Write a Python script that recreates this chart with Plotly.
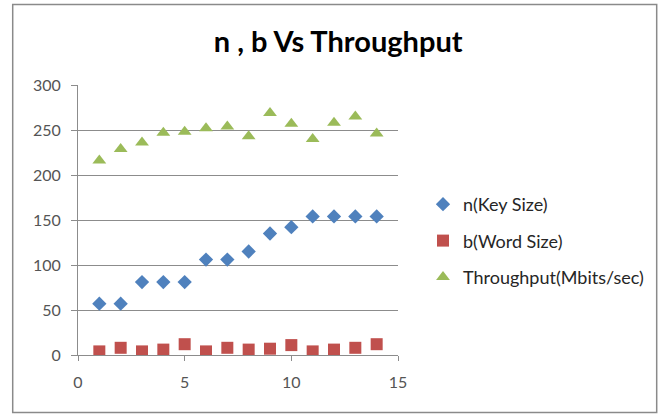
import plotly.graph_objects as go

x_vals = list(range(1, 15))
n_key_size = [57, 57, 81, 81, 81, 106, 106, 115, 135, 142, 154, 154, 154, 154]
b_word_size = [4, 8, 4, 6, 12, 4, 8, 6, 7, 11, 4, 6, 8, 12]
throughput = [216, 229, 236, 247, 248, 252, 254, 243, 269, 257, 240, 258, 265, 246]

series_names = ["n(Key Size)", "b(Word Size)", "Throughput(Mbits/sec)"]
colors = ["#4F81BD", "#C0504D", "#9BBB59"]
symbols = ["diamond", "square", "triangle-up"]
sizes = [11, 12, 12]

W, H = 660, 415
L, R, T, B = 78, 261, 85, 60

fig = go.Figure()
for name, ys, c, s, sz in zip(series_names, [n_key_size, b_word_size, throughput], colors, symbols, sizes):
    fig.add_trace(go.Scatter(
        x=x_vals, y=ys, mode="markers", name=name, legendgroup=name,
        marker=dict(symbol=s, size=sz, color=c, line=dict(width=0)),
    ))

pw = W - L - R
ph = H - T - B
def px_x(p):
    return (p - L) / pw
def px_y(p):
    return (H - B - p) / ph

fig.update_layout(
    width=W, height=H,
    margin=dict(l=L, r=R, t=T, b=B),
    paper_bgcolor="white", plot_bgcolor="white",
    font=dict(family="Lato, Calibri, sans-serif", color="#404040"),
    title=dict(text="<b>n , b Vs Throughput</b>", x=px_x(339), xref="paper", xanchor="center",
               y=1 - 42 / H, yanchor="middle", font=dict(size=29, color="#000000")),
    xaxis=dict(range=[0, 15], tickvals=[0, 5, 10, 15], showgrid=False, zeroline=False,
               showline=True, linecolor="#8c8c8c", linewidth=1, ticks="outside", ticklen=5,
               tickcolor="#8c8c8c", tickfont=dict(size=16, color="#555555"),
               ticklabelstandoff=8, fixedrange=True),
    yaxis=dict(range=[0, 300], tickvals=[0, 50, 100, 150, 200, 250, 300], showgrid=True,
               gridcolor="#8c8c8c", gridwidth=1, zeroline=False, showline=True, linecolor="#8c8c8c",
               linewidth=1, ticks="outside", ticklen=6, tickcolor="#8c8c8c",
               tickfont=dict(size=16, color="#555555"), ticklabelstandoff=7, fixedrange=True),
    legend=dict(x=px_x(423), xanchor="left", y=px_y(241), yanchor="middle",
                font=dict(size=18, color="#262626"), tracegroupgap=10,
                bgcolor="rgba(0,0,0,0)", itemwidth=30),
    showlegend=True,
)

fig.add_shape(type="rect", xref="paper", yref="paper",
              x0=px_x(12.5), x1=px_x(658.5), y0=px_y(412.5), y1=px_y(4.5),
              line=dict(color="#8a8a8a", width=1.5), fillcolor="rgba(0,0,0,0)", layer="below")

fig.write_html("out.html")
